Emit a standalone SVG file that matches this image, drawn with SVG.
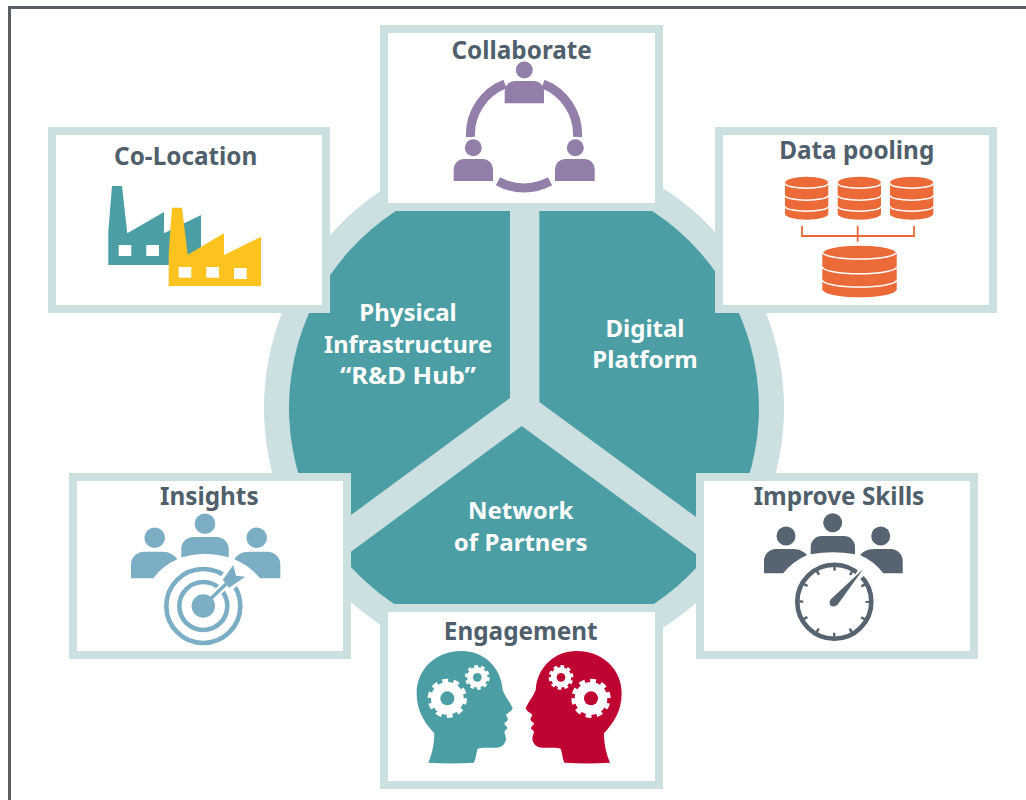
<svg xmlns="http://www.w3.org/2000/svg" width="1026" height="800" viewBox="0 0 1026 800">
<style>
.box{fill:#fff;stroke:#cde0e1;stroke-width:8}
.t{font-family:"Noto Sans","Open Sans",sans-serif;font-weight:700;font-size:24.3px;fill:#4f5f6c;text-anchor:middle}
.w{font-family:"Noto Sans","Open Sans",sans-serif;font-weight:700;font-size:24px;fill:#fff;text-anchor:middle}
.seg{fill:#4b9ea4}
.wl{fill:none;stroke:#fff;stroke-width:1.5}
</style>
<defs>
<g id="db"><path d="M0,6.5a21.65,6.5 0 0 1 43.3,0V37a21.65,6 0 0 1 -43.3,0z" fill="#ec6a37"/><path class="wl" d="M0,6.5a21.65,5 0 0 0 43.3,0M0,18.5a21.65,5 0 0 0 43.3,0M0,29.5a21.65,5 0 0 0 43.3,0"/></g>
<g id="gear"><circle r="49" fill="#fff"/><circle r="51" fill="none" stroke="#fff" stroke-width="16" stroke-dasharray="17 15.04"/></g>
<path id="head" d="M160,488C170,465 178,435 178,400C150,370 125,335 125,280C125,205 185,153 260,153C325,153 378,200 383,270C390,290 405,305 413,325C410,335 398,338 393,345C396,352 400,356 398,361C396,366 389,366 388,371C390,376 398,380 397,385C395,391 388,391 388,396C390,405 395,412 392,422C388,435 378,442 365,443C345,445 325,440 308,446C303,460 303,475 297,488C250,491 205,491 160,488Z"/>
</defs>
<rect x="9.5" y="7.5" width="1030" height="800" fill="#fff" stroke="#5a5f63" stroke-width="3"/>
<g id="hub">
<circle cx="524" cy="408" r="260" fill="#cde0e1"/>
<g id="physical-infrastructure"><path class="seg" d="M510,173.4V398L325.5,533.8A235,235 0 0 1 510,173.4Z"/>
<text class="w" x="408" y="321">Physical</text><text class="w" x="408" y="352.5" textLength="168" lengthAdjust="spacingAndGlyphs">Infrastructure</text><text class="w" x="408" y="383.5" textLength="136" lengthAdjust="spacingAndGlyphs">“R&amp;D Hub”</text></g>
<g id="digital-platform"><path class="seg" d="M539.3,173.5V402L721.3,535.6A235,235 0 0 0 539.3,173.5Z"/>
<text class="w" x="645" y="337">Digital</text><text class="w" x="645" y="367.5">Platform</text></g>
<g id="network-of-partners"><path class="seg" d="M521.7,426L703.6,559.5A235,235 0 0 1 342.8,557.7Z"/>
<text class="w" x="520.7" y="518.5">Network</text><text class="w" x="520.7" y="550.5">of Partners</text></g>
</g>
<g id="collaborate"><rect class="box" x="384" y="29" width="275" height="178"/>
<text class="t" x="521.7" y="59">Collaborate</text>
<g fill="#927ea9"><circle cx="524.3" cy="70" r="8.5"/><path id="p1" d="M504.7,103.3V91a10,10 0 0 1 10,-10h19.3a10,10 0 0 1 10,10v12.3z"/>
<circle cx="473.3" cy="147.7" r="8.5"/><path d="M453.7,181V169a10,10 0 0 1 10,-10h19.3a10,10 0 0 1 10,10v12z"/>
<circle cx="575.3" cy="147.7" r="8.5"/><path d="M555,181V169a10,10 0 0 1 10,-10h19.7a10,10 0 0 1 10,10v12z"/></g>
<path d="M470.5,137A54,54 0 0 1 505,84M543,84A54,54 0 0 1 577.5,137M498,181.3A54,54 0 0 0 550,181.3" fill="none" stroke="#927ea9" stroke-width="9"/></g>
<g id="co-location"><rect class="box" x="52" y="131" width="274" height="178"/>
<text class="t" x="185.7" y="165">Co-Location</text>
<path fill="#4b9ea4" d="M112,186H122L127.3,233.3L164,212V233.3L201,215V265H108.3V231.7Z"/>
<g fill="#fff"><rect x="118.7" y="245" width="12.6" height="11"/><rect x="146.3" y="245" width="12.7" height="11"/></g>
<path fill="#fcc31e" d="M172,207.7H182L187.7,254.7L224,233.3V255L261,236.7V286H168.7V253.3Z"/>
<g fill="#fff"><rect x="178.7" y="267" width="12.6" height="10.7"/><rect x="206.3" y="267" width="12.7" height="10.7"/><rect x="234" y="268" width="12.7" height="11"/></g></g>
<g id="data-pooling"><rect class="box" x="719" y="131" width="274" height="178"/>
<text class="t" x="856.7" y="159">Data pooling</text>
<use href="#db" x="785" y="176.7"/><use href="#db" x="837.7" y="176.7"/><use href="#db" x="890" y="176.7"/>
<path d="M802,226V236H914V226M857.7,226V241.7" fill="none" stroke="#ec6a37" stroke-width="1.8"/>
<path d="M822.3,253.7a37.2,8 0 0 1 74.4,0V289.3a37.2,8 0 0 1 -74.4,0z" fill="#ec6a37"/>
<path class="wl" d="M822.3,252a37.2,7 0 0 0 74.4,0M822.3,266.7a37.2,7 0 0 0 74.4,0M822.3,280a37.2,7 0 0 0 74.4,0"/></g>
<g id="insights"><rect class="box" x="73" y="477" width="274" height="178"/>
<text class="t" x="209.3" y="505">Insights</text>
<g fill="#7baec5"><circle cx="205" cy="523.7" r="10.3"/><circle cx="154.7" cy="537.7" r="10.3"/><circle cx="256.7" cy="537.7" r="10.3"/>
<path d="M181.3,557.3V549a12,12 0 0 1 12,-12H216.7a12,12 0 0 1 12,12V557.3Q205,550 181.3,557.3Z"/>
<path d="M131,578.3V565a13,13 0 0 1 13,-13.3H162C170,551.7 174,555 177.3,559.3Q162,566 153.3,578.3Z"/>
<path d="M280.3,578.3V565a13,13 0 0 0 -13,-13.3H249.3C241.3,551.7 237.3,555 234.3,559.3Q250,566 260,578.3Z"/></g>
<circle cx="203.3" cy="606" r="37" fill="none" stroke="#7baec5" stroke-width="4.6"/><circle cx="203.3" cy="606" r="24" fill="none" stroke="#7baec5" stroke-width="4.6"/>
<path d="M203.3,606L226,584" stroke="#fff" stroke-width="8" fill="none"/><path d="M232,562L248,576L230,592L218,580Z" fill="#fff"/>
<circle cx="203.3" cy="606" r="11.7" fill="#7baec5"/><path d="M203.3,606L226,584" stroke="#7baec5" stroke-width="3.5" fill="none"/>
<path d="M233.3,565L236,575.7L245.3,576.7L229,587.7L222.7,580Z" fill="#7baec5"/></g>
<g id="improve-skills"><rect class="box" x="700" y="477" width="274" height="178"/>
<text class="t" x="839" y="505">Improve Skills</text>
<g fill="#566370"><circle cx="832.7" cy="522.7" r="9.5"/><circle cx="786" cy="536" r="9.5"/><circle cx="880.7" cy="536" r="9.5"/>
<path d="M810.7,554.3V547a11,11 0 0 1 11,-11H844a11,11 0 0 1 11,11V554.3Q833,550 810.7,554.3Z"/>
<path d="M764,573.3V561a12,12 0 0 1 12,-12H793C800,549 804,552 807.3,555Q793,561 783.3,573.3Z"/>
<path d="M902.7,573.3V561a12,12 0 0 0 -12,-12H874C867,549 863,552 860,555Q874,561 883.3,573.3Z"/></g>
<circle cx="834.3" cy="601.7" r="37" fill="none" stroke="#566370" stroke-width="4.6"/>
<circle cx="834.3" cy="601.7" r="33" fill="none" stroke="#566370" stroke-width="4" stroke-dasharray="2.5 14.78" stroke-dashoffset="1.25"/>
<path d="M860,566L868,572L846,592Z" fill="#fff"/>
<path d="M863.3,569L837,605.5L830.5,599.5Z" fill="#566370"/><circle cx="833.3" cy="602.7" r="3.7" fill="#566370"/></g>
<g id="engagement"><rect class="box" x="384" y="608" width="275" height="177"/>
<text class="t" x="520.7" y="640">Engagement</text>
<g transform="translate(375,600) scale(.33333)"><use href="#head" fill="#4b9ea4"/>
<use href="#gear" transform="translate(217,295)"/><circle cx="217" cy="295" r="21" fill="#4b9ea4"/>
<use href="#gear" transform="translate(307,232) scale(.63)"/><circle cx="307" cy="232" r="13" fill="#4b9ea4"/>
<g transform="translate(865,0) scale(-1,1)"><use href="#head" fill="#c00431"/>
<use href="#gear" transform="translate(217,295)"/><circle cx="217" cy="295" r="21" fill="#c00431"/>
<use href="#gear" transform="translate(307,232) scale(.63)"/><circle cx="307" cy="232" r="13" fill="#c00431"/></g></g></g>
</svg>
